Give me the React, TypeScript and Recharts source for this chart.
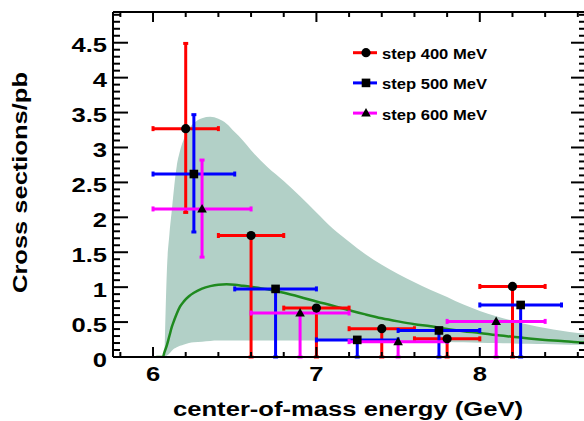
import React from "react";
import {
  ComposedChart,
  Area,
  Line,
  Scatter,
  ErrorBar,
  XAxis,
  YAxis,
  ReferenceLine,
} from "recharts";

// measured points, three binning steps
const energy400 = [6.2, 6.6, 7.0, 7.4, 7.8, 8.2];
const sigma400 = [3.27, 1.74, 0.7, 0.405, 0.26, 1.01];
const errUp400 = [1.22, 0, 0, 0, 0, 0];
const errDown400 = [1.2, 1.74, 0.7, 0.405, 0.26, 1.01];
const halfBin400 = 0.2;

const energy500 = [6.25, 6.75, 7.25, 7.75, 8.25];
const sigma500 = [2.62, 0.975, 0.245, 0.38, 0.745];
const errUp500 = [0.85, 0, 0, 0, 0];
const errDown500 = [0.83, 0.975, 0.245, 0.38, 0.745];
const halfBin500 = 0.25;

const energy600 = [6.3, 6.9, 7.5, 8.1];
const sigma600 = [2.12, 0.63, 0.22, 0.51];
const errUp600 = [0.7, 0, 0, 0];
const errDown600 = [0.69, 0.63, 0.22, 0.51];
const halfBin600 = 0.3;

// theory band + central curve
const modelEnergy = [
  6.02, 6.06, 6.07, 6.085, 6.1, 6.115, 6.13, 6.145, 6.165, 6.19, 6.22, 6.25, 6.3, 6.35, 6.4, 6.45, 6.5,
  6.55, 6.6, 6.7, 6.8, 6.9, 7.0, 7.1, 7.2, 7.3, 7.4, 7.5, 7.6, 7.7, 7.8, 7.9, 8.0, 8.1, 8.2, 8.3, 8.4,
  8.5, 8.6, 8.65,
];
const bandLow = [
  null, null, 0, 0.02, 0.05, 0.09, 0.12, 0.14, 0.16, 0.18, 0.2, 0.21, 0.22, 0.23, 0.235, 0.235, 0.235,
  0.235, 0.235, 0.235, 0.235, 0.235, 0.235, 0.233, 0.232, 0.23, 0.228, 0.225, 0.222, 0.218, 0.214, 0.21,
  0.205, 0.2, 0.195, 0.19, 0.185, 0.18, 0.175, 0.172,
];
const bandHigh = [
  null, null, 0, 1.25, 1.75, 2.1, 2.45, 2.73, 2.95, 3.13, 3.27, 3.35, 3.42, 3.44, 3.41, 3.34, 3.22,
  3.1, 2.96, 2.72, 2.52, 2.3, 2.07, 1.84, 1.65, 1.47, 1.32, 1.19, 1.07, 0.96, 0.86, 0.75, 0.66, 0.585,
  0.52, 0.46, 0.415, 0.375, 0.345, 0.335,
];
const modelCurve = [
  0, 0, 0.07, 0.17, 0.3, 0.43, 0.53, 0.62, 0.72, 0.8, 0.87, 0.92, 0.98, 1.015, 1.035, 1.04, 1.035,
  1.02, 1.005, 0.97, 0.92, 0.86, 0.795, 0.735, 0.67, 0.61, 0.555, 0.51, 0.47, 0.44, 0.4, 0.37, 0.345,
  0.315, 0.29, 0.265, 0.245, 0.23, 0.21, 0.205,
];

const xLabelTicks = [6, 7, 8];
const xTicks = [5.8, 6, 6.2, 6.4, 6.6, 6.8, 7, 7.2, 7.4, 7.6, 7.8, 8, 8.2, 8.4, 8.6];
const yLabelTicks = [0, 0.5, 1, 1.5, 2, 2.5, 3, 3.5, 4, 4.5];
const yTicks = Array.from({ length: 50 }, (_, i) => i / 10);

const X_DOMAIN = [5.755, 8.65];
const Y_DOMAIN = [0, 4.94];

// layout
const W = 600;
const H = 421;
const M = { top: 12, right: 14, bottom: 0, left: 0 };
const Y_AXIS_W = 113;
const X_AXIS_H = 64;
const PLOT_LEFT = M.left + Y_AXIS_W;
const PLOT_RIGHT = W - M.right;
const PLOT_TOP = M.top;
const PLOT_BOTTOM = H - X_AXIS_H;

const FONT = "'Liberation Sans', Arial, Helvetica, sans-serif";
const STRETCH = 1.28;

const modelData = modelEnergy.map((e, i) => ({
  energy: e,
  band: bandLow[i] == null ? null : [bandLow[i], bandHigh[i]],
  curve: modelCurve[i],
}));

const toPoints = (xs, ys, up, down, half) =>
  xs.map((x, i) => ({ energy: x, sigma: ys[i], ex: [half, half], ey: [down[i], up[i]] }));

const series = [
  { name: "step 400 MeV", color: "#ff0000", marker: "circle", data: toPoints(energy400, sigma400, errUp400, errDown400, halfBin400) },
  { name: "step 500 MeV", color: "#0000ff", marker: "square", data: toPoints(energy500, sigma500, errUp500, errDown500, halfBin500) },
  { name: "step 600 MeV", color: "#ff00ff", marker: "triangle", data: toPoints(energy600, sigma600, errUp600, errDown600, halfBin600) },
];

const Marker = ({ kind, cx, cy }) => {
  if (kind === "circle") return <circle cx={cx} cy={cy} r={4.6} fill="#000" />;
  if (kind === "square") return <rect x={cx - 4.3} y={cy - 4.3} width={8.6} height={8.6} fill="#000" />;
  return <polygon points={`${cx},${cy - 5} ${cx - 4.8},${cy + 3.5} ${cx + 4.8},${cy + 3.5}`} fill="#000" />;
};

const near = (list, v) => list.some((t) => Math.abs(t - v) < 1e-6);

const YTick = ({ y, payload }) => {
  const major = near(yLabelTicks, payload.value);
  const len = major ? 15 : 7;
  return (
    <g>
      <line x1={PLOT_LEFT} x2={PLOT_LEFT + len} y1={y} y2={y} stroke="#000" strokeWidth={2} />
      <line x1={PLOT_RIGHT} x2={PLOT_RIGHT - len} y1={y} y2={y} stroke="#000" strokeWidth={2} />
      {major && (
        <text
          transform={`translate(107,${y + 9.5}) scale(${STRETCH},1)`}
          textAnchor="end"
          fontFamily={FONT}
          fontWeight="bold"
          fontSize={20}
          fill="#000"
        >
          {String(payload.value)}
        </text>
      )}
    </g>
  );
};

const XTick = ({ x, payload }) => {
  const major = near(xLabelTicks, payload.value);
  const len = major ? 10 : 5;
  return (
    <g>
      <line x1={x} x2={x} y1={PLOT_BOTTOM} y2={PLOT_BOTTOM - len} stroke="#000" strokeWidth={2} />
      <line x1={x} x2={x} y1={PLOT_TOP} y2={PLOT_TOP + len} stroke="#000" strokeWidth={2} />
      {major && (
        <text
          transform={`translate(${x},${PLOT_BOTTOM + 24}) scale(${STRETCH},1)`}
          textAnchor="middle"
          fontFamily={FONT}
          fontWeight="bold"
          fontSize={20}
          fill="#000"
        >
          {String(payload.value)}
        </text>
      )}
    </g>
  );
};

export default function App() {
  return (
    <div style={{ position: "absolute", left: 0, top: 0, width: 584, height: 421, overflow: "hidden", background: "#fff" }}>
      <ComposedChart width={W} height={H} margin={M}>
        <XAxis
          dataKey="energy"
          type="number"
          domain={X_DOMAIN}
          allowDataOverflow
          ticks={xTicks}
          interval={0}
          height={X_AXIS_H}
          axisLine={{ stroke: "#000", strokeWidth: 2 }}
          tickLine={false}
          tick={(p) => <XTick {...p} />}
        />
        <YAxis
          type="number"
          domain={Y_DOMAIN}
          allowDataOverflow
          ticks={yTicks}
          interval={0}
          width={Y_AXIS_W}
          axisLine={{ stroke: "#000", strokeWidth: 2 }}
          tickLine={false}
          tick={(p) => <YTick {...p} />}
        />
        <ReferenceLine y={Y_DOMAIN[1]} stroke="#000" strokeWidth={2} />
        <Area
          data={modelData}
          dataKey="band"
          type="monotone"
          fill="#b2d0c7"
          fillOpacity={1}
          stroke="none"
          isAnimationActive={false}
        />
        <Line
          data={modelData}
          dataKey="curve"
          type="monotone"
          stroke="#1f8a1f"
          strokeWidth={2.5}
          dot={false}
          isAnimationActive={false}
        />
        {series.map((s) => (
          <Scatter
            key={s.name}
            name={s.name}
            data={s.data}
            dataKey="sigma"
            isAnimationActive={false}
            shape={(p) => <Marker kind={s.marker} cx={p.cx} cy={p.cy} />}
          >
            <ErrorBar dataKey="ex" direction="x" stroke={s.color} strokeWidth={3} width={2.5} isAnimationActive={false} />
            <ErrorBar dataKey="ey" direction="y" stroke={s.color} strokeWidth={3} width={2.5} isAnimationActive={false} />
          </Scatter>
        ))}
      </ComposedChart>

      <svg width={584} height={421} style={{ position: "absolute", left: 0, top: 0, pointerEvents: "none" }}>
        {/* axis titles */}
        <text
          x={348}
          y={416}
          textAnchor="middle"
          fontFamily={FONT}
          fontWeight="bold"
          fontSize={20}
          textLength={350}
          lengthAdjust="spacingAndGlyphs"
        >
          center-of-mass energy (GeV)
        </text>
        <text
          transform="translate(27,182.5) rotate(-90)"
          textAnchor="middle"
          fontFamily={FONT}
          fontWeight="bold"
          fontSize={20}
          textLength={221}
          lengthAdjust="spacingAndGlyphs"
        >
          Cross sections/pb
        </text>
        {/* legend */}
        {series.map((s, i) => {
          const y = 52.7 + i * 30.2;
          return (
            <g key={s.name}>
              <line x1={353} x2={377} y1={y} y2={y} stroke={s.color} strokeWidth={3} />
              <Marker kind={s.marker} cx={366} cy={y} />
              <text
                x={382}
                y={y + 6.5}
                fontFamily={FONT}
                fontWeight="bold"
                fontSize={15.5}
                textLength={105}
                lengthAdjust="spacingAndGlyphs"
              >
                {s.name}
              </text>
            </g>
          );
        })}
      </svg>
    </div>
  );
}
